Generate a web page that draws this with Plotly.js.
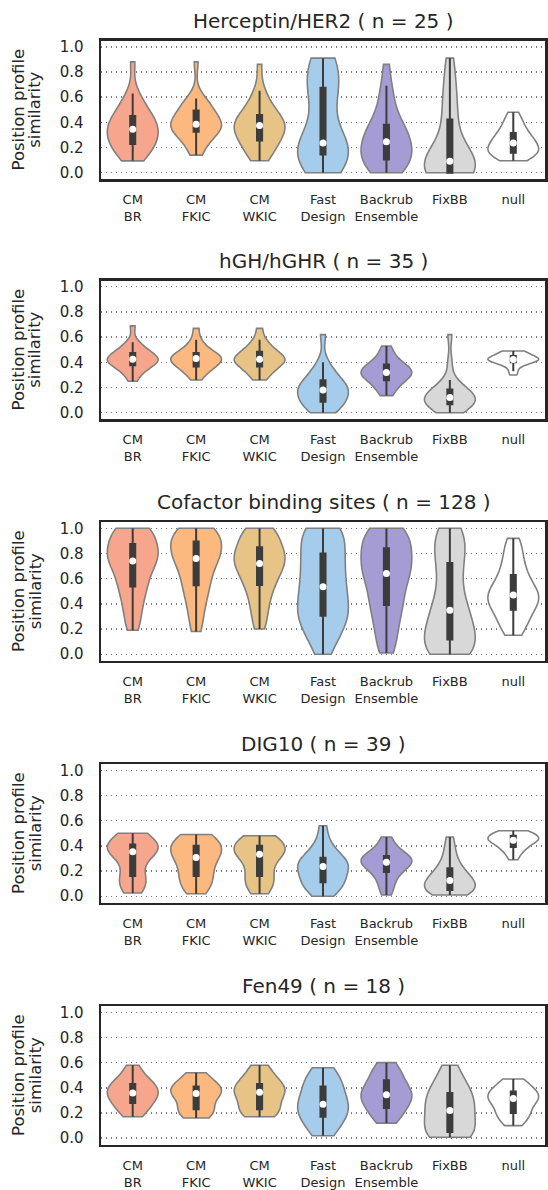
<!DOCTYPE html>
<html><head><meta charset="utf-8">
<script src="https://cdn.plot.ly/plotly-3.0.1.min.js"></script>
<style>html,body{margin:0;padding:0;background:#fff}#chart{width:548px;height:1190px}</style>
</head><body><div id="chart"></div>
<script>
// ---------- data ----------
const categories = ['CM BR','CM FKIC','CM WKIC','Fast Design','Backrub Ensemble','FixBB','null'];
const tickLabels = ['CM<br>BR','CM<br>FKIC','CM<br>WKIC','Fast<br>Design','Backrub<br>Ensemble','FixBB','null'];
const panelNames = ['Herceptin/HER2','hGH/hGHR','Cofactor binding sites','DIG10','Fen49'];
const panelN = [25, 35, 128, 39, 18];
const yTicks = [0, 0.2, 0.4, 0.6, 0.8, 1.0];

// samples per method, in category order
const herceptinHER2 = [
  [0.094,0.12,0.15,0.18,0.2,0.22,0.23,0.25,0.27,0.29,0.31,0.33,0.345,0.36,0.37,0.39,0.41,0.43,0.445,0.47,0.5,0.54,0.58,0.63,0.88],
  [0.14,0.18,0.22,0.26,0.29,0.31,0.33,0.34,0.35,0.36,0.37,0.38,0.385,0.39,0.4,0.42,0.44,0.46,0.49,0.51,0.53,0.55,0.57,0.59,0.88],
  [0.095,0.13,0.16,0.19,0.22,0.24,0.26,0.28,0.3,0.32,0.34,0.36,0.375,0.38,0.39,0.4,0.42,0.43,0.45,0.48,0.51,0.55,0.6,0.65,0.86],
  [0.0,0.02,0.05,0.08,0.11,0.13,0.15,0.17,0.19,0.21,0.22,0.23,0.235,0.32,0.42,0.52,0.62,0.64,0.66,0.72,0.78,0.83,0.87,0.9,0.91],
  [0.0,0.02,0.04,0.06,0.08,0.09,0.11,0.13,0.15,0.17,0.19,0.21,0.245,0.27,0.29,0.31,0.33,0.35,0.37,0.41,0.47,0.55,0.62,0.69,0.86],
  [0,0,0,0,0,0,0,0.02,0.05,0.07,0.08,0.085,0.09,0.1,0.13,0.17,0.22,0.3,0.41,0.46,0.53,0.61,0.7,0.8,0.91],
  [0.095,0.11,0.13,0.14,0.15,0.155,0.16,0.17,0.18,0.19,0.2,0.22,0.235,0.24,0.25,0.26,0.28,0.3,0.31,0.33,0.35,0.38,0.41,0.44,0.48]
];
const hGHhGHR = [
  [0.25,0.3,0.33,0.35,0.37,0.38,0.39,0.4,0.41,0.42,0.425,0.43,0.44,0.45,0.46,0.47,0.49,0.51,0.53,0.56,0.69],
  [0.26,0.3,0.33,0.35,0.36,0.37,0.39,0.4,0.41,0.42,0.43,0.435,0.44,0.45,0.46,0.47,0.49,0.51,0.54,0.58,0.67],
  [0.26,0.29,0.32,0.34,0.36,0.37,0.39,0.4,0.41,0.42,0.425,0.43,0.44,0.45,0.47,0.48,0.5,0.52,0.55,0.58,0.67],
  [0.0,0.02,0.04,0.06,0.08,0.09,0.11,0.13,0.15,0.17,0.18,0.19,0.2,0.22,0.24,0.25,0.28,0.31,0.35,0.4,0.62],
  [0.136,0.17,0.2,0.23,0.25,0.26,0.28,0.29,0.3,0.31,0.32,0.33,0.34,0.35,0.36,0.38,0.39,0.41,0.44,0.48,0.53],
  [0.0,0.02,0.03,0.05,0.06,0.07,0.08,0.09,0.1,0.11,0.12,0.13,0.14,0.15,0.16,0.18,0.2,0.22,0.26,0.4,0.62],
  [0.3,0.33,0.36,0.38,0.39,0.4,0.405,0.41,0.415,0.42,0.42,0.425,0.43,0.435,0.44,0.445,0.45,0.46,0.47,0.48,0.49,0.49]
];
const cofactorSites = [
  [0.19,0.26,0.33,0.39,0.44,0.49,0.53,0.56,0.6,0.63,0.67,0.7,0.72,0.74,0.76,0.78,0.8,0.82,0.84,0.86,0.88,0.91,0.94,0.97,1.0,1.0,1.0],
  [0.18,0.26,0.34,0.4,0.45,0.5,0.54,0.57,0.61,0.65,0.68,0.71,0.74,0.76,0.78,0.8,0.82,0.84,0.86,0.88,0.9,0.92,0.95,0.97,1.0,1.0,1.0],
  [0.2,0.28,0.35,0.41,0.46,0.51,0.55,0.58,0.61,0.64,0.67,0.69,0.71,0.73,0.75,0.77,0.79,0.81,0.83,0.85,0.88,0.91,0.94,0.97,1.0,1.0],
  [0.0,0.08,0.14,0.19,0.23,0.26,0.29,0.32,0.35,0.38,0.41,0.45,0.49,0.52,0.55,0.59,0.63,0.67,0.71,0.75,0.78,0.82,0.86,0.9,0.95,1.0,1.0,1.0],
  [0.01,0.08,0.15,0.22,0.28,0.33,0.38,0.42,0.46,0.5,0.54,0.6,0.63,0.64,0.67,0.7,0.73,0.76,0.79,0.82,0.85,0.88,0.91,0.94,0.97,1.0,1.0],
  [0.0,0.0,0.01,0.03,0.05,0.08,0.11,0.14,0.17,0.2,0.23,0.27,0.31,0.35,0.37,0.42,0.48,0.55,0.62,0.68,0.74,0.79,0.84,0.89,0.94,0.98,1.0],
  [0.15,0.19,0.23,0.27,0.3,0.33,0.36,0.38,0.4,0.42,0.44,0.46,0.47,0.49,0.51,0.53,0.56,0.59,0.62,0.66,0.7,0.75,0.8,0.86,0.92]
];
const dig10 = [
  [0.026,0.05,0.08,0.11,0.14,0.16,0.2,0.25,0.3,0.33,0.345,0.36,0.37,0.38,0.385,0.39,0.41,0.43,0.45,0.48,0.5,0.5],
  [0.02,0.05,0.08,0.11,0.14,0.16,0.19,0.22,0.25,0.28,0.295,0.32,0.34,0.36,0.37,0.38,0.4,0.42,0.44,0.46,0.49,0.49],
  [0.02,0.05,0.08,0.11,0.14,0.16,0.19,0.23,0.27,0.3,0.325,0.34,0.35,0.36,0.37,0.385,0.4,0.42,0.44,0.46,0.48,0.48],
  [0.0,0.03,0.06,0.08,0.1,0.115,0.14,0.16,0.18,0.2,0.235,0.24,0.25,0.26,0.28,0.3,0.32,0.35,0.39,0.45,0.56],
  [0.01,0.06,0.1,0.14,0.17,0.2,0.22,0.23,0.245,0.26,0.27,0.28,0.29,0.3,0.31,0.315,0.33,0.35,0.38,0.42,0.47],
  [0.01,0.02,0.03,0.04,0.045,0.05,0.07,0.09,0.1,0.11,0.125,0.14,0.15,0.17,0.19,0.215,0.24,0.28,0.33,0.39,0.47],
  [0.29,0.32,0.35,0.37,0.38,0.39,0.41,0.42,0.43,0.435,0.44,0.45,0.455,0.46,0.47,0.476,0.48,0.49,0.5,0.51,0.52,0.52]
];
const fen49 = [
  [0.17,0.2,0.23,0.26,0.28,0.3,0.32,0.34,0.35,0.37,0.38,0.4,0.42,0.43,0.45,0.48,0.52,0.58],
  [0.16,0.18,0.2,0.22,0.23,0.26,0.3,0.34,0.35,0.36,0.37,0.38,0.4,0.41,0.43,0.46,0.49,0.52],
  [0.17,0.19,0.21,0.22,0.23,0.27,0.31,0.34,0.36,0.37,0.38,0.4,0.42,0.43,0.46,0.5,0.54,0.58],
  [0.02,0.06,0.1,0.14,0.17,0.2,0.22,0.24,0.26,0.28,0.31,0.35,0.39,0.41,0.44,0.48,0.52,0.56],
  [0.12,0.16,0.2,0.23,0.24,0.28,0.31,0.33,0.34,0.35,0.37,0.39,0.42,0.46,0.49,0.52,0.56,0.6],
  [0.008,0.02,0.03,0.04,0.05,0.1,0.15,0.19,0.21,0.23,0.27,0.31,0.34,0.36,0.39,0.44,0.5,0.58],
  [0.1,0.14,0.17,0.19,0.2,0.23,0.27,0.29,0.31,0.32,0.33,0.34,0.35,0.37,0.39,0.42,0.44,0.47]
];
const panelData = [herceptinHER2, hGHhGHR, cofactorSites, dig10, fen49];

// ---------- styles ----------
const colors = ['#F6A68D','#FBB87F','#E7C386','#A5CCEA','#A49CD2','#D8D8D8','#FFFFFF'];
const W = 548, H = 1190;
const ML = 101, MR = 3;
const frameTop = [39.5, 279.5, 521, 763, 1005];
const frameH = 140.5;
const ink = '#262626';
const FONT = 'DejaVu Sans, sans-serif';

function median(a){ const s=[...a].sort((p,q)=>p-q); const m=s.length>>1; return s.length%2? s[m] : (s[m-1]+s[m])/2; }
function scottBW(a, n){ const m=a.reduce((s,v)=>s+v,0)/a.length; const sd=Math.sqrt(a.reduce((s,v)=>s+(v-m)*(v-m),0)/(a.length-1)); return sd*Math.pow(n,-0.2); }

const traces = [];
const layout = {
  width: W, height: H, autosize: false,
  margin: {l: ML, r: MR, t: 0, b: 0},
  paper_bgcolor: '#fff', plot_bgcolor: '#fff',
  showlegend: false, hovermode: false, violinmode: 'overlay',
  font: {family: FONT, color: ink},
  annotations: []
};
const pw = W - ML - MR;
const toPX = px => (px - ML) / pw;
const toPY = py => 1 - py / H;

panelData.forEach((sets, p) => {
  const k = p + 1;
  const xa = 'x' + (k === 1 ? '' : k), ya = 'y' + (k === 1 ? '' : k);
  sets.forEach((vals, c) => {
    traces.push({
      type: 'violin', x0: categories[c], y: vals, name: categories[c],
      xaxis: xa, yaxis: ya,
      spanmode: 'hard', bandwidth: scottBW(vals, panelN[p]),
      scalemode: 'width', width: 0.8, points: false,
      fillcolor: colors[c], line: {color: '#808080', width: 1.6},
      box: {visible: true, width: 0.1, fillcolor: '#3c3c3c', line: {color: '#3c3c3c', width: 2}},
      meanline: {visible: false}, hoverinfo: 'skip', showlegend: false
    });
  });
  traces.push({
    type: 'scatter', mode: 'markers', xaxis: xa, yaxis: ya,
    x: categories, y: sets.map(median),
    marker: {color: '#ffffff', size: 7, line: {width: 0}},
    hoverinfo: 'skip', showlegend: false
  });
  const top = frameTop[p], bot = top + frameH;
  layout['xaxis' + (k === 1 ? '' : k)] = {
    domain: [0, 1], anchor: ya, type: 'category',
    categoryorder: 'array', categoryarray: categories, range: [-0.5, 6.5],
    tickvals: categories, ticktext: tickLabels, ticks: '', ticklabelstandoff: 7,
    tickfont: {family: FONT, size: 13, color: ink},
    showline: true, mirror: true, linecolor: ink, linewidth: 2.5,
    showgrid: false, zeroline: false, fixedrange: true
  };
  layout['yaxis' + (k === 1 ? '' : k)] = {
    domain: [toPY(bot - 1), toPY(top + 1)], anchor: xa,
    range: [-0.05, 1.05], tickvals: yTicks, ticktext: yTicks.map(v => v.toFixed(1)),
    ticks: '', ticklabelstandoff: 12,
    tickfont: {family: FONT, size: 15, color: ink},
    showgrid: true, gridcolor: '#7a7a7a', griddash: '1.4px,3.6px', gridwidth: 1.4,
    showline: true, mirror: true, linecolor: ink, linewidth: 2.5,
    zeroline: false, fixedrange: true
  };
  layout.annotations.push({
    xref: 'paper', yref: 'paper', x: toPX((100 + 547) / 2), y: toPY(top - 19),
    xanchor: 'center', yanchor: 'middle', showarrow: false,
    text: panelNames[p] + ' ( n = ' + panelN[p] + ' )',
    font: {family: FONT, size: 20, color: ink}
  });
  layout.annotations.push({
    xref: 'paper', yref: 'paper', x: toPX(18.7), y: toPY(top + frameH / 2),
    xanchor: 'center', yanchor: 'middle', showarrow: false, textangle: -90,
    text: 'Position profile', font: {family: FONT, size: 16.5, color: ink}
  });
  layout.annotations.push({
    xref: 'paper', yref: 'paper', x: toPX(35), y: toPY(top + frameH / 2),
    xanchor: 'center', yanchor: 'middle', showarrow: false, textangle: -90,
    text: 'similarity', font: {family: FONT, size: 16.5, color: ink}
  });
});

Plotly.newPlot('chart', traces, layout, {displayModeBar: false, staticPlot: true});
</script>
</body></html>
